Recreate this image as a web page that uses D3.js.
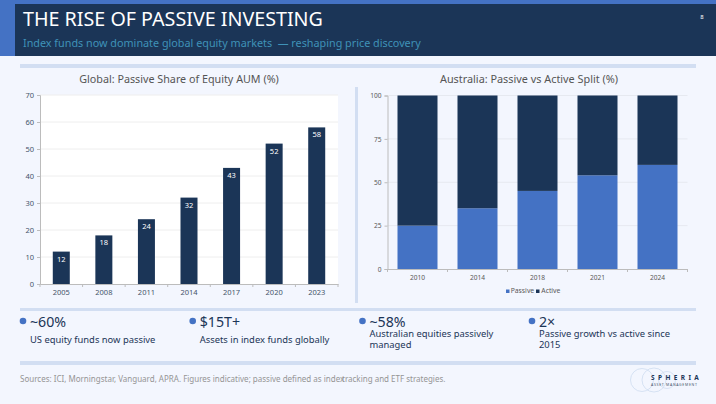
<!DOCTYPE html>
<html>
<head>
<meta charset="utf-8">
<script src="https://cdn.jsdelivr.net/npm/d3@7"></script>
<style>
  html, body { margin: 0; padding: 0; background: #f3f6fe; overflow: hidden; }
  svg { display: block; font-family: "Noto Sans", sans-serif; }
</style>
</head>
<body>
<svg id="slide" width="716" height="404"></svg>
<script>
const globalYears = ['2005', '2008', '2011', '2014', '2017', '2020', '2023'];
const globalShare = [12, 18, 24, 32, 43, 52, 58];
const ausYears = ['2010', '2014', '2018', '2021', '2024'];
const ausPassive = [25, 35, 45, 54, 60];
const ausActive = [75, 65, 55, 46, 40];
const stats = [
  { big: '~60%', lines: ['US equity funds now passive'] },
  { big: '$15T+', lines: ['Assets in index funds globally'] },
  { big: '~58%', lines: ['Australian equities passively', 'managed'] },
  { big: '2×', lines: ['Passive growth vs active since', '2015'] },
];

const navy = '#1b3557';
const blue = '#4472c4';
const ruleColor = '#d2def2';
const svg = d3.select('#slide');

function rect(x, y, w, h, fill) {
  return svg.append('rect').attr('x', x).attr('y', y).attr('width', w).attr('height', h).attr('fill', fill);
}

function label(x, y, str, size, fill, anchor) {
  return svg.append('text').attr('x', x).attr('y', y).attr('font-size', size)
    .attr('fill', fill).attr('text-anchor', anchor || 'start').text(str);
}

// header
rect(0, 0, 716, 4, blue);
rect(0, 0, 15, 56, blue);
rect(15, 4, 701, 52, navy);
label(23, 26, 'THE RISE OF PASSIVE INVESTING', 19.7, '#ffffff');
label(23, 47, 'Index funds now dominate global equity markets  — reshaping price discovery', 10.8, '#3f92b8').style('white-space', 'pre');
label(702, 19, '8', 6, '#ffffff', 'middle');

// rules
rect(20, 64, 676, 4, ruleColor);
rect(355, 87, 3, 216, ruleColor);
rect(20, 308, 676, 3, ruleColor);
rect(20, 361, 676, 4, ruleColor);

function styleAxis(g, tickColor, textColor, size) {
  g.selectAll('path').attr('stroke', '#bcbcbc').attr('stroke-width', 1);
  g.selectAll('line').attr('stroke', tickColor);
  g.selectAll('text').attr('fill', textColor).attr('font-size', size).attr('font-family', '"Noto Sans", sans-serif');
}

// left chart
label(179, 83, 'Global: Passive Share of Equity AUM (%)', 10.75, '#555555', 'middle');
const leftBand = d3.scaleBand().domain(globalYears).range([40, 338]);
const leftY = d3.scaleLinear().domain([0, 70]).range([284, 95]);

rect(40, 95, 298, 189, '#ffffff');
svg.append('g').selectAll('line').data(leftY.ticks(7).slice(1)).join('line')
  .attr('x1', 40).attr('x2', 338)
  .attr('y1', (d) => leftY(d)).attr('y2', (d) => leftY(d))
  .attr('stroke', '#eeeeee');

svg.append('g').selectAll('rect').data(globalShare).join('rect')
  .attr('x', (d, i) => leftBand(globalYears[i]) + leftBand.bandwidth() / 2 - 8.5)
  .attr('y', (d) => leftY(d))
  .attr('width', 17)
  .attr('height', (d) => leftY(0) - leftY(d))
  .attr('fill', navy);

svg.append('g').selectAll('text').data(globalShare).join('text')
  .attr('x', (d, i) => leftBand(globalYears[i]) + leftBand.bandwidth() / 2)
  .attr('y', (d) => leftY(d) + 10)
  .attr('text-anchor', 'middle').attr('font-size', 7.5).attr('fill', '#ffffff')
  .text((d) => d);

const leftAxisX = svg.append('g').attr('transform', 'translate(0,284)')
  .call(d3.axisBottom(leftBand).tickSize(0).tickPadding(6));
styleAxis(leftAxisX, '#bcbcbc', '#44546a', 7.5);
svg.append('g').selectAll('line').data(d3.range(globalYears.length + 1)).join('line')
  .attr('x1', (d) => 40 + d * leftBand.step()).attr('x2', (d) => 40 + d * leftBand.step())
  .attr('y1', 284).attr('y2', 287).attr('stroke', '#bcbcbc');
const leftAxisY = svg.append('g').attr('transform', 'translate(40,0)')
  .call(d3.axisLeft(leftY).ticks(7).tickSize(3).tickPadding(3));
styleAxis(leftAxisY, '#bcbcbc', '#44546a', 7.5);

// right chart
label(529, 83, 'Australia: Passive vs Active Split (%)', 10.85, '#555555', 'middle');
const rightX = d3.scaleBand().domain(ausYears).range([387.5, 687.5]);
const rightY = d3.scaleLinear().domain([0, 100]).range([269, 95.5]);
const barW = 40;

svg.append('g').selectAll('line').data([25, 50, 75, 100]).join('line')
  .attr('x1', 387.5).attr('x2', 687.5)
  .attr('y1', (d) => rightY(d)).attr('y2', (d) => rightY(d))
  .attr('stroke', '#e6e9f0');

const stackRows = ausYears.map((year, i) => ({ year, passive: ausPassive[i], active: ausActive[i] }));
const stacked = d3.stack().keys(['passive', 'active'])(stackRows);
const stackColor = { passive: blue, active: navy };

svg.append('g').selectAll('g').data(stacked).join('g')
  .attr('fill', (s) => stackColor[s.key])
  .selectAll('rect').data((s) => s).join('rect')
  .attr('x', (d) => rightX(d.data.year) + rightX.bandwidth() / 2 - barW / 2)
  .attr('y', (d) => rightY(d[1]))
  .attr('width', barW)
  .attr('height', (d) => rightY(d[0]) - rightY(d[1]));

const rightAxisX = svg.append('g').attr('transform', 'translate(0,269)')
  .call(d3.axisBottom(rightX).tickSize(0).tickPadding(6));
styleAxis(rightAxisX, '#bcbcbc', '#595959', 6.6);
svg.append('g').selectAll('line').data(d3.range(ausYears.length + 1)).join('line')
  .attr('x1', (d) => 387.5 + d * rightX.step()).attr('x2', (d) => 387.5 + d * rightX.step())
  .attr('y1', 269).attr('y2', 272).attr('stroke', '#bcbcbc');
const rightAxisY = svg.append('g').attr('transform', 'translate(387.5,0)')
  .call(d3.axisLeft(rightY).tickValues([0, 25, 50, 75, 100]).tickSize(3).tickPadding(3));
styleAxis(rightAxisY, '#bcbcbc', '#595959', 6.6);

// legend
rect(506, 289.5, 3.5, 3.5, blue);
label(510.7, 293, 'Passive', 6.8, '#595959');
rect(536, 289.5, 3.5, 3.5, navy);
label(541.3, 293, 'Active', 6.8, '#595959');

// stat row
const statX = [23, 192.7, 362.5, 532];
stats.forEach((s, i) => {
  svg.append('circle').attr('cx', statX[i]).attr('cy', 321).attr('r', 3.3).attr('fill', blue);
  label(statX[i] + 7, 327, s.big, 14.2, navy);
  const first = s.lines.length > 1 ? 337 : 343;
  s.lines.forEach((t, j) => label(statX[i] + 7, first + j * 11, t, 9.4, navy));
});

// footer
label(20, 382, 'Sources: ICI, Morningstar, Vanguard, APRA. Figures indicative; passive defined as index', 8, '#959595');
label(342, 382, 'tracking and ETF strategies.', 8, '#959595');

// logo
[[642, 380, 11.5], [654, 380, 12], [667, 380, 8.5]].forEach(([cx, cy, r]) => {
  svg.append('circle').attr('cx', cx).attr('cy', cy).attr('r', r)
    .attr('fill', 'none').attr('stroke', '#c9d8ee').attr('stroke-width', 0.7);
});
label(651, 380, 'S P H E R I A', 6.5, navy).attr('font-weight', 700).attr('letter-spacing', 0.85);
label(651, 386, 'ASSET MANAGEMENT', 3.5, '#44546a').attr('letter-spacing', 0.7);
</script>
</body>
</html>
